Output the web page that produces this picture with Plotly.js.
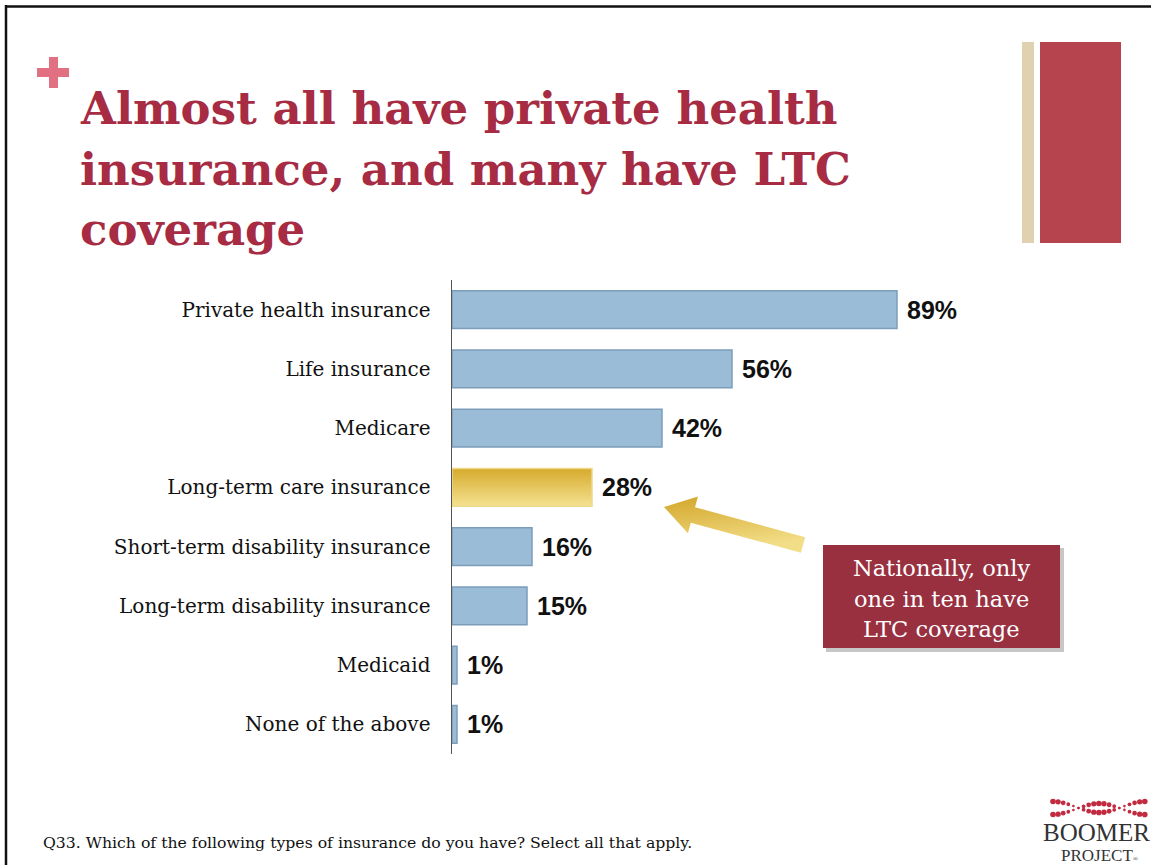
<!DOCTYPE html>
<html>
<head>
<meta charset="utf-8">
<script src="https://cdn.plot.ly/plotly-3.0.1.min.js"></script>
<style>
  html, body { margin: 0; padding: 0; background: #ffffff; }
  #chart { width: 1151px; height: 865px; }
</style>
</head>
<body>
<div id="chart"></div>
<script>
// ---- Data ----
const categories = [
  "Private health insurance",
  "Life insurance",
  "Medicare",
  "Long-term care insurance",
  "Short-term disability insurance",
  "Long-term disability insurance",
  "Medicaid",
  "None of the above"
];
const values = [89, 56, 42, 28, 16, 15, 1, 1];
const highlightCategory = "Long-term care insurance";
const titleLines = [
  "Almost all have private health",
  "insurance, and many have LTC",
  "coverage"
];
const calloutLines = ["Nationally, only", "one in ten have", "LTC coverage"];
const footnote = "Q33. Which of the following types of insurance do you have? Select all that apply.";

// ---- Geometry helpers (decoration only) ----
const W = 1151, H = 865;
const ML = 452, MR = 199, MT = 280, MB = 111;
const PW = W - ML - MR, PH = H - MT - MB;
const px = x => (x - ML) / PW;
const py = y => (H - MB - y) / PH;

const BLUE = "#9BBCD6", BLUE_LINE = "#7C9DBA";
const GOLD = "#E6C555", GOLD_LINE = "#EED88A";
const RED = "#A62B43";

const colors = categories.map(c => c === highlightCategory ? GOLD : BLUE);
const lineColors = categories.map(c => c === highlightCategory ? GOLD_LINE : BLUE_LINE);

const trace = {
  type: "bar",
  orientation: "h",
  y: categories,
  x: values,
  marker: { color: colors, line: { color: lineColors, width: 1.5 } },
  hoverinfo: "none",
  cliponaxis: false
};

const shapes = [];
const annotations = [];

// slide border (top & left)
shapes.push({ type: "line", xref: "paper", yref: "paper", x0: px(5), x1: px(1151), y0: py(6.5), y1: py(6.5), line: { color: "#111", width: 2.5 } });
shapes.push({ type: "line", xref: "paper", yref: "paper", x0: px(6), x1: px(6), y0: py(5), y1: py(865), line: { color: "#111", width: 2.5 } });

// plus sign
shapes.push({ type: "rect", xref: "paper", yref: "paper", x0: px(37), x1: px(69), y0: py(68), y1: py(77), fillcolor: "#E07082", line: { width: 0 } });
shapes.push({ type: "rect", xref: "paper", yref: "paper", x0: px(49), x1: px(58), y0: py(57), y1: py(88), fillcolor: "#E07082", line: { width: 0 } });

// decorative right blocks
shapes.push({ type: "rect", xref: "paper", yref: "paper", x0: px(1022), x1: px(1034), y0: py(42), y1: py(243), fillcolor: "#E0D2B0", line: { width: 0 } });
shapes.push({ type: "rect", xref: "paper", yref: "paper", x0: px(1040), x1: px(1121), y0: py(42), y1: py(243), fillcolor: "#B5444F", line: { width: 0 } });

// callout shadow + box
shapes.push({ type: "rect", xref: "paper", yref: "paper", x0: px(826), x1: px(1064), y0: py(548), y1: py(652), fillcolor: "rgba(0,0,0,0.22)", line: { width: 0 } });
shapes.push({ type: "rect", xref: "paper", yref: "paper", x0: px(823), x1: px(1060), y0: py(545), y1: py(648), fillcolor: "#98303F", line: { width: 0 } });

// gold block arrow
const T = [664, 507], C = [803, 545];
const dx = C[0] - T[0], dy = C[1] - T[1], L = Math.hypot(dx, dy);
const u = [dx / L, dy / L], n = [-u[1], u[0]];
const HL = 30, HW = 19, SW = 8;
const P = (base, a, b) => [base[0] + a * u[0] + b * n[0], base[1] + a * u[1] + b * n[1]];
const arrowPts = [T, P(T, HL, -HW), P(T, HL, -SW), P(C, 0, -SW), P(C, 0, SW), P(T, HL, SW), P(T, HL, HW)];
const arrowPath = "M" + arrowPts.map(p => px(p[0]) + "," + py(p[1])).join(" L") + " Z";
const arrowIndex = shapes.length;
shapes.push({ type: "path", xref: "paper", yref: "paper", path: arrowPath, fillcolor: "#E3C050", line: { width: 0 } });

// logo dots (decorative wave)
for (let i = 0; i <= 18; i++) {
  const x = 1053 + i * 5.1;
  const ph = Math.cos(2 * Math.PI * (x - 1053) / 92);
  const r = 1.0 + 1.8 * Math.abs(ph);
  [807 - 5.5 * ph, 809 + 5.5 * ph].forEach(y => {
    shapes.push({ type: "circle", xref: "paper", yref: "paper", x0: px(x - r), x1: px(x + r), y0: py(y - r), y1: py(y + r), fillcolor: "#C22A40", line: { width: 0 } });
  });
}

// title
const titleY = [108, 169, 230];
titleLines.forEach((t, i) => annotations.push({
  xref: "paper", yref: "paper", x: px(78), y: py(titleY[i]), xanchor: "left", yanchor: "middle",
  text: "<b>" + t + "</b>", showarrow: false,
  font: { family: "DejaVu Serif", size: 45, color: RED }
}));

// callout text
const calloutY = [568, 599, 629];
calloutLines.forEach((t, i) => annotations.push({
  xref: "paper", yref: "paper", x: px(941.5), y: py(calloutY[i]), xanchor: "center", yanchor: "middle",
  text: t, showarrow: false,
  font: { family: "DejaVu Serif", size: 22.5, color: "#ffffff" }
}));

// data labels
categories.forEach((c, i) => annotations.push({
  xref: "x", yref: "y", x: values[i], y: c, xanchor: "left", yanchor: "middle", xshift: 8,
  text: "<b>" + values[i] + "%</b>", showarrow: false,
  font: { family: "Liberation Sans", size: 25, color: "#111" }
}));

// footnote
annotations.push({
  xref: "paper", yref: "paper", x: px(41), y: py(842), xanchor: "left", yanchor: "middle",
  text: footnote, showarrow: false,
  font: { family: "DejaVu Serif", size: 15.7, color: "#111" }
});

// logo text
annotations.push({
  xref: "paper", yref: "paper", x: px(1096), y: py(832), xanchor: "center", yanchor: "middle",
  text: "BOOMER", showarrow: false,
  font: { family: "Liberation Serif", size: 25, color: "#333" }
});
annotations.push({
  xref: "paper", yref: "paper", x: px(1100), y: py(855), xanchor: "center", yanchor: "middle",
  text: "PROJECT<span style='font-size:7px'>®</span>", showarrow: false,
  font: { family: "Liberation Serif", size: 17, color: "#333" }
});

const layout = {
  width: W, height: H,
  margin: { l: ML, r: MR, t: MT, b: MB, pad: 0 },
  paper_bgcolor: "#ffffff", plot_bgcolor: "#ffffff",
  showlegend: false,
  bargap: 0.36,
  xaxis: { range: [0, 100], visible: false, fixedrange: true },
  yaxis: {
    type: "category", autorange: "reversed", fixedrange: true,
    showline: true, linecolor: "#555", linewidth: 1.5,
    ticks: "", showgrid: false, zeroline: false,
    ticklabelstandoff: 16,
    tickfont: { family: "DejaVu Serif", size: 20, color: "#111" }
  },
  shapes: shapes,
  annotations: annotations
};

Plotly.newPlot("chart", [trace], layout, { displayModeBar: false, staticPlot: true }).then(gd => {
  const svgNS = "http://www.w3.org/2000/svg";
  const svg = gd.querySelector(".main-svg");
  let defs = svg.querySelector("defs");
  if (!defs) { defs = document.createElementNS(svgNS, "defs"); svg.insertBefore(defs, svg.firstChild); }
  function grad(id, stops, x2, y2) {
    const g = document.createElementNS(svgNS, "linearGradient");
    g.setAttribute("id", id);
    g.setAttribute("x1", "0"); g.setAttribute("y1", "0");
    g.setAttribute("x2", x2); g.setAttribute("y2", y2);
    stops.forEach(s => {
      const st = document.createElementNS(svgNS, "stop");
      st.setAttribute("offset", s[0]); st.setAttribute("stop-color", s[1]);
      g.appendChild(st);
    });
    defs.appendChild(g);
  }
  grad("goldBar", [["0", "#D6AA2C"], ["1", "#F5E292"]], "0", "1");
  grad("goldArrow", [["0", "#D3A62A"], ["1", "#F3DE88"]], "0.3", "1");
  const idx = categories.indexOf(highlightCategory);
  const pts = gd.querySelectorAll(".barlayer .point path");
  if (pts[idx]) pts[idx].style.fill = "url(#goldBar)";
  gd.querySelectorAll(".shapelayer path").forEach(p => {
    if (p.getAttribute("data-index") === String(arrowIndex)) p.style.fill = "url(#goldArrow)";
  });
});
</script>
</body>
</html>
